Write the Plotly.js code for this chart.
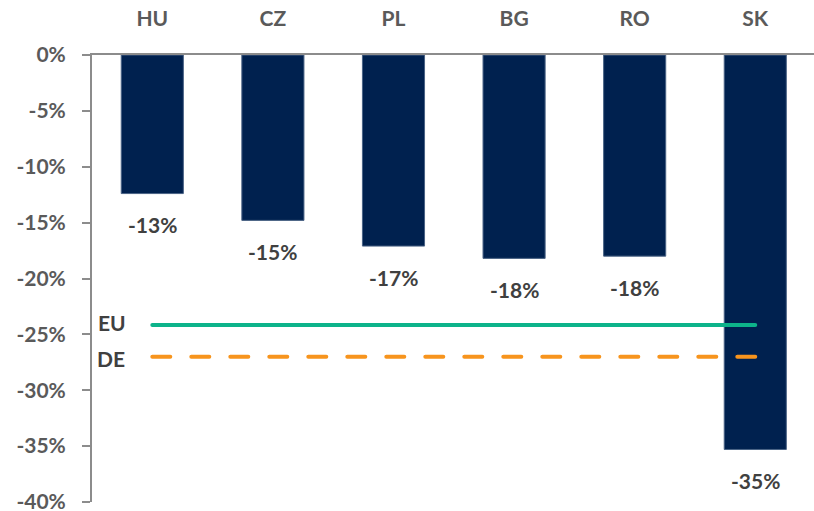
<!DOCTYPE html>
<html>
<head>
<meta charset="utf-8">
<script src="https://cdn.plot.ly/plotly-3.0.1.min.js"></script>
<style>html,body{margin:0;padding:0;background:#fff;}#chart{width:814px;height:511px;}</style>
</head>
<body>
<div id="chart"></div>
<script>
// ---- data ----
const categories = ['HU', 'CZ', 'PL', 'BG', 'RO', 'SK'];
const changeValues = [-12.4, -14.8, -17.1, -18.2, -18.0, -35.3];
const changeLabels = ['-13%', '-15%', '-17%', '-18%', '-18%', '-35%'];
const euName = 'EU';
const euValue = -24.15;
const deName = 'DE';
const deValue = -27.0;
const yTickValues = [0, -5, -10, -15, -20, -25, -30, -35, -40];

// ---- styles ----
const FONT = 'Lato, "Open Sans", sans-serif';
const navy = '#00214f';
const green = '#0db38a';
const orange = '#f7941d';
const axisGray = '#8c8c8c';
const tickText = '#5a5a5a';
const labelText = '#404040';
const FS = 21;

const first = categories[0], last = categories[categories.length - 1];

const traces = [
  {
    type: 'bar', x: categories, y: changeValues,
    marker: {color: navy, line: {color: '#4a6385', width: 1}},
    hoverinfo: 'skip', showlegend: false
  },
  {
    type: 'scatter', mode: 'lines', name: euName,
    x: [first, last], y: [euValue, euValue],
    line: {color: green, width: 4},
    hoverinfo: 'skip', showlegend: false
  },
  {
    type: 'scatter', mode: 'lines', name: deName,
    x: [first, last], y: [deValue, deValue],
    line: {color: orange, width: 4, dash: '18px,21px'},
    hoverinfo: 'skip', showlegend: false
  }
];

const annotations = categories.map((c, i) => ({
  x: c, y: changeValues[i], xref: 'x', yref: 'y',
  text: changeLabels[i], showarrow: false,
  yanchor: 'middle', xanchor: 'center', yshift: -31,
  font: {family: FONT, size: FS, color: labelText, weight: 'bold'}
}));
annotations.push({
  x: first, y: euValue, xref: 'x', yref: 'y', text: euName, showarrow: false,
  xanchor: 'center', yanchor: 'middle', xshift: -40, yshift: 2,
  font: {family: FONT, size: FS, color: labelText, weight: 'bold'}
});
annotations.push({
  x: first, y: deValue, xref: 'x', yref: 'y', text: deName, showarrow: false,
  xanchor: 'center', yanchor: 'middle', xshift: -41, yshift: -2,
  font: {family: FONT, size: FS, color: labelText, weight: 'bold'}
});

const layout = {
  width: 814, height: 511,
  margin: {l: 92, r: 0, t: 55, b: 9},
  paper_bgcolor: '#fff', plot_bgcolor: '#fff',
  bargap: 0.485,
  font: {family: FONT},
  xaxis: {
    type: 'category', side: 'top',
    range: [-0.5, 5.487],
    showline: true, linecolor: axisGray, linewidth: 2,
    showgrid: false, zeroline: false, ticks: '',
    ticklabelstandoff: 19,
    tickfont: {family: FONT, size: FS, color: tickText, weight: 'bold'}
  },
  yaxis: {
    range: [-40, 0], tickvals: yTickValues,
    ticktext: yTickValues.map(v => v + '%'),
    showline: true, linecolor: axisGray, linewidth: 2,
    ticks: 'outside', ticklen: 8, tickwidth: 2, tickcolor: axisGray,
    ticklabelstandoff: 12, ticklabeloverflow: 'allow',
    showgrid: false, zeroline: false,
    tickfont: {family: FONT, size: FS, color: tickText, weight: 'bold'}
  },
  annotations: annotations,
  showlegend: false
};

Plotly.newPlot('chart', traces, layout, {staticPlot: true, displayModeBar: false}).then(gd => {
  gd.querySelectorAll('.scatterlayer .js-line').forEach(p => {
    p.style.strokeLinecap = 'round';
  });
});
</script>
</body>
</html>
